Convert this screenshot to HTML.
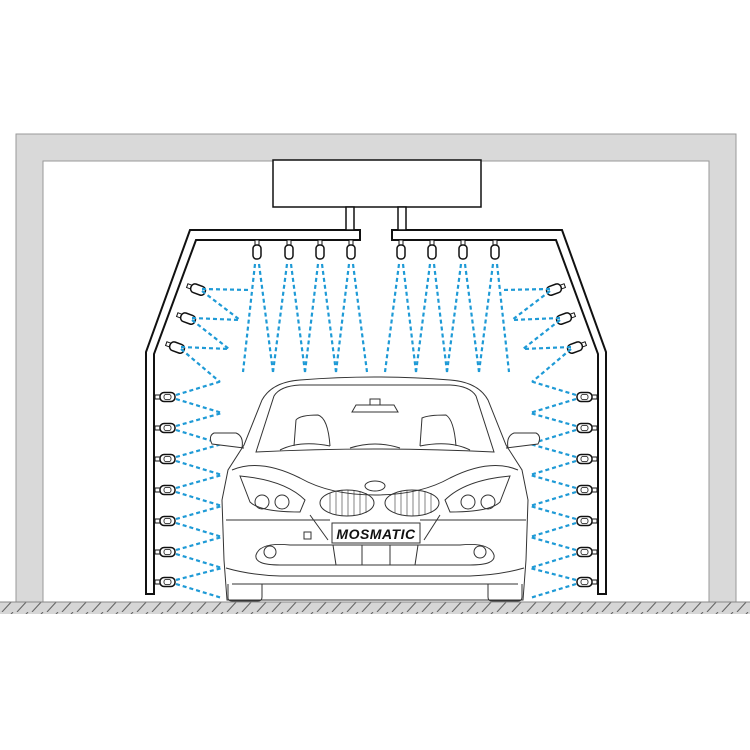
<!DOCTYPE html>
<html><head><style>html,body{margin:0;padding:0;background:#fff}svg{display:block}</style></head>
<body>
<svg width="750" height="750" viewBox="0 0 750 750" xmlns="http://www.w3.org/2000/svg">
<defs>
<pattern id="hat" width="15" height="12" patternUnits="userSpaceOnUse">
<line x1="2" y1="12" x2="13" y2="0" stroke="#666" stroke-width="1.1"/>
</pattern>
<g id="vn"><rect x="155" y="-2" width="5" height="4" fill="#fff" stroke="#111" stroke-width="1"/><rect x="160" y="-4.5" width="15" height="9" rx="4" fill="#fff" stroke="#111" stroke-width="1.5"/><rect x="164" y="-2.5" width="7" height="5" rx="2" fill="none" stroke="#111" stroke-width="0.8"/></g>
<g id="tn"><rect x="-2" y="240" width="4" height="5" fill="#fff" stroke="#111" stroke-width="1"/><rect x="-4" y="245" width="8" height="14" rx="3.5" fill="#fff" stroke="#111" stroke-width="1.5"/></g>
<g id="half">
<path d="M360,230 H190 L146,352 V594 H154 V354 L196,240 H360 Z" fill="#fff" stroke="#111" stroke-width="2"/>
<rect x="346" y="207" width="8" height="23" fill="#fff" stroke="#111" stroke-width="1.5"/>
<use href="#tn" x="257"/><use href="#tn" x="289"/><use href="#tn" x="320"/><use href="#tn" x="351"/>
<g transform="translate(191,287) rotate(20)"><rect x="-4" y="-2" width="4" height="4" fill="#fff" stroke="#111"/><rect x="0" y="-4.5" width="15" height="9" rx="4" fill="#fff" stroke="#111" stroke-width="1.5"/></g>
<g transform="translate(181,316) rotate(20)"><rect x="-4" y="-2" width="4" height="4" fill="#fff" stroke="#111"/><rect x="0" y="-4.5" width="15" height="9" rx="4" fill="#fff" stroke="#111" stroke-width="1.5"/></g>
<g transform="translate(170,345) rotate(20)"><rect x="-4" y="-2" width="4" height="4" fill="#fff" stroke="#111"/><rect x="0" y="-4.5" width="15" height="9" rx="4" fill="#fff" stroke="#111" stroke-width="1.5"/></g>
<use href="#vn" y="397"/><use href="#vn" y="428"/><use href="#vn" y="459"/><use href="#vn" y="490"/><use href="#vn" y="521"/><use href="#vn" y="552"/><use href="#vn" y="582"/>
<g stroke="#1e9ad6" stroke-width="2.2" stroke-dasharray="4,3" fill="none">
<path d="M255,264 L243,372 M259,264 L273,372 M287,264 L273,372 M291,264 L305,372 M318,264 L305,372 M322,264 L336,372 M349,264 L336,372 M353,264 L367,372"/>
<path d="M202,289 L251,290 M202,291 L240,320 M192,318 L240,320 M192,320 L229,349 M181,347 L229,349 M181,349 L220,382"/>
<path d="M176,395 L222,381 M176,399 L222,413 M176,426 L222,413 M176,430 L222,444 M176,457 L222,444 M176,461 L222,475 M176,488 L222,475 M176,492 L222,506 M176,519 L222,506 M176,523 L222,537 M176,550 L222,537 M176,554 L222,568 M176,580 L222,568 M176,584 L222,598"/>
</g>
</g>
</defs>
<path d="M16,134 H736 V602 H709 V161 H43 V602 H16 Z" fill="#d9d9d9" stroke="#999" stroke-width="1"/>
<rect x="0" y="602" width="750" height="12" fill="#d6d6d6"/>
<rect x="0" y="602" width="750" height="12" fill="url(#hat)"/>
<line x1="0" y1="602" x2="750" y2="602" stroke="#888" stroke-width="1"/>
<rect x="273" y="160" width="208" height="47" fill="#fff" stroke="#111" stroke-width="1.5"/>
<use href="#half"/>
<use href="#half" transform="translate(752,0) scale(-1,1)"/>
<g fill="none" stroke="#333" stroke-width="1">
<path d="M227,600 L224,560 L222,500 L228,470 L244,445 L262,400 Q272,382 300,380 Q375,374 450,380 Q478,382 488,400 L506,445 L522,470 L528,500 L526,560 L523,600 Z" fill="#fff"/>
<path d="M256,452 L274,396 Q280,386 300,385 L450,385 Q470,386 476,396 L494,452 Q375,446 256,452 Z"/>
<path d="M356,405 L352,412 L398,412 L394,405 Z M370,399 h10 v6 h-10 z"/>
<path d="M294,446 L296,420 Q300,415 318,415 Q328,418 330,446"/>
<path d="M420,446 L422,418 Q428,415 446,415 Q454,420 456,446"/>
<path d="M280,450 Q300,440 330,446 M350,448 Q375,440 400,448 M420,446 Q450,440 470,450"/>
<path d="M244,448 L212,444 Q208,436 214,433 L236,433 Q244,436 242,448 Z" fill="#fff"/>
<path d="M506,448 L538,444 Q542,436 536,433 L514,433 Q506,436 508,448 Z" fill="#fff"/>
<path d="M232,470 Q260,458 300,478 Q330,495 375,495 Q420,495 450,478 Q490,458 518,470"/>
<path d="M240,476 L250,502 Q260,512 300,512 L305,500 Q285,480 240,476 Z M510,476 L500,502 Q490,512 450,512 L445,500 Q465,480 510,476 Z"/>
<circle cx="262" cy="502" r="7"/><circle cx="282" cy="502" r="7"/>
<circle cx="468" cy="502" r="7"/><circle cx="488" cy="502" r="7"/>
<ellipse cx="347" cy="503" rx="27" ry="13"/><ellipse cx="412" cy="503" rx="27" ry="13"/>
<path d="M330,493 V513 M336,491 V515 M342,490 V516 M348,490 V516 M354,490 V516 M360,491 V515 M366,493 V513 M395,493 V513 M401,491 V515 M407,490 V516 M413,490 V516 M419,490 V516 M425,491 V515 M431,493 V513" stroke-width="0.6"/>
<ellipse cx="375" cy="486" rx="10" ry="5"/>
<rect x="332" y="523" width="88" height="20" fill="#fff"/>
<rect x="304" y="532" width="7" height="7"/>
<path d="M226,520 L330,520 M420,520 L526,520 M310,515 L328,540 M440,515 L424,540"/>
<path d="M256,555 Q260,542 290,545 L460,545 Q490,542 494,555 Q496,565 470,565 L280,565 Q254,565 256,555 Z"/>
<circle cx="270" cy="552" r="6"/><circle cx="480" cy="552" r="6"/>
<path d="M333,545 L336,565 M362,545 L362,565 M390,545 L390,565 M418,545 L415,565"/>
<path d="M226,568 Q250,575 280,576 L470,576 Q500,575 524,568 M232,584 L518,584"/>
<path d="M228,584 V598 Q228,601 232,601 H258 Q262,601 262,597 V584 M488,584 V597 Q488,601 492,601 H518 Q522,601 522,597 V584"/>
</g>
<text x="376" y="539" text-anchor="middle" font-family="Liberation Sans, sans-serif" font-style="italic" font-weight="bold" font-size="14" fill="#111" letter-spacing="0.5">MOSMATIC</text>
</svg>
</body></html>
